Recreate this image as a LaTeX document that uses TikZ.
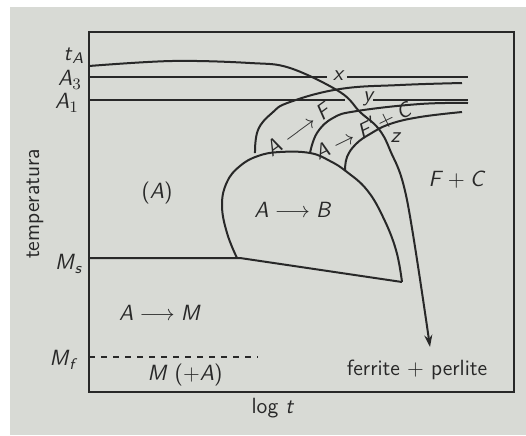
\documentclass[tikz,border=0pt]{standalone}
\usepackage{amsmath}
\usetikzlibrary{arrows.meta}
\definecolor{paper}{RGB}{216,218,213}
\definecolor{ink}{RGB}{40,40,40}
\newcommand{\sv}[1]{\textsf{\textit{#1}}}
\begin{document}
\begin{tikzpicture}[x=0.5pt,y=-0.5pt,font=\sffamily\fontsize{11}{13}\selectfont,line width=1pt,ink,
  every node/.style={inner sep=0.5pt}]
  \fill[paper] (10,7) rectangle (526,435);
  \useasboundingbox (0,0) rectangle (526,435);
  \draw[line width=1.2pt] (89,32) rectangle (514,392);
  % critical temperatures
  \draw (89,77) -- (327,77); \draw (347,77) -- (468,77);
  \draw (89,100) -- (345,100); \draw (373,100) -- (468,100);
  \draw (89,258) -- (240,258) -- (402,282);
  \draw[dashed] (89,357) -- (258,357);
  % start and finish curves
  \draw plot[smooth,tension=0.7] coordinates {(255,153) (258,130) (272,113) (290,102) (340,89) (400,85) (462,83)};
  \draw plot[smooth,tension=0.7] coordinates {(310,153) (317,133) (333,118) (357,111) (420,104) (468,103)};
  \draw plot[smooth,tension=0.7] coordinates {(345,171) (347,157) (356,144) (370,134) (390,124) (420,117) (462,112)};
  \draw plot[smooth,tension=0.7] coordinates {(237,258) (227,233) (222,205) (227,182) (240,166) (258,156) (280,152) (310,153) (330,161) (347,172) (367,190) (383,217) (396,250) (402,282)};
  % cooling
  \draw[-{Stealth[length=6pt,width=4pt]}] plot[smooth,tension=0.6] coordinates {(89,66) (172,61) (250,63) (290,68) (340,92) (360,112) (378,128) (390,150) (407,200) (430,347)};
  \node (tA) at (74,56) {$\sv{t}_{\sv{A}}$}; \node (A3) at (70,80) {$\sv{A}_3$};
  \node (A1) at (67,103) {$\sv{A}_1$}; \node (Ms) at (69,264) {$\sv{M}_{\sv{s}}$};
  \node (Mf) at (64,360) {$\sv{M}_{\sv{f}}$};
  \node[rotate=90] (temp) at (35,204) {temperatura}; \node (logt) at (273,408) {log \sv{t}};
  \node (px) at (339,76) {\sv{x}}; \node (py) at (369,99) {\sv{y}}; \node (pz) at (396,138) {\sv{z}};
  \node (aust) at (157,193) {(\sv{A})}; \node (bain) at (293,210) {$\sv{A}\longrightarrow\sv{B}$};
  \node[rotate=36] (ferr) at (299,129) {$\sv{A}\longrightarrow\sv{F}$};
  \node[rotate=26,font=\sffamily\fontsize{10.5}{12}\selectfont] (perl) at (363,130) {$\sv{A}\to\sv{F}'\!+\sv{C}$};
  \node (fc) at (457,180) {$\sv{F}+\sv{C}$}; \node (mart) at (160,313) {$\sv{A}\longrightarrow\sv{M}$};
  \node (mres) at (185,375) {\sv{M} (+\sv{A})}; \node (fp) at (417,370) {ferrite + perlite};
\end{tikzpicture}
\end{document}
